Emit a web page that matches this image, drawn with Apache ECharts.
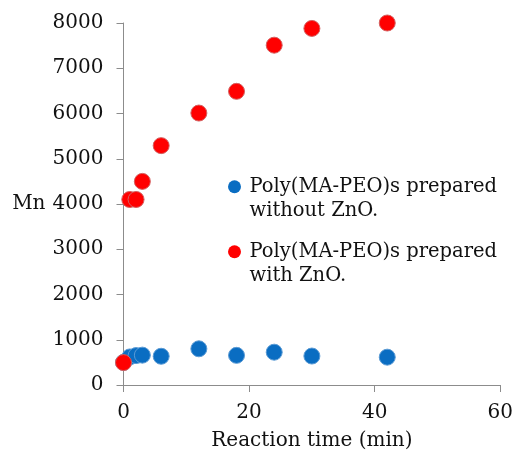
<!DOCTYPE html>
<html>
<head>
<meta charset="utf-8">
<script src="https://cdn.jsdelivr.net/npm/echarts@6/dist/echarts.min.js"></script>
<style>html,body{margin:0;padding:0;background:#fff;}#c{width:516px;height:456px;}</style>
</head>
<body>
<div id="c"></div>
<script>
var seriesNames = ['Poly(MA-PEO)s prepared\nwithout ZnO.', 'Poly(MA-PEO)s prepared\nwith ZnO.'];
var timeWithout = [0, 1, 2, 3, 6, 12, 18, 24, 30, 42];
var mnWithout = [500, 620, 650, 660, 635, 800, 655, 725, 640, 615];
var timeWith = [0, 1, 2, 3, 6, 12, 18, 24, 30, 42];
var mnWith = [495, 4100, 4100, 4500, 5290, 6010, 6490, 7510, 7880, 8000];
var xTicks = [0, 20, 40, 60];
var yTicks = [0, 1000, 2000, 3000, 4000, 5000, 6000, 7000, 8000];

function pairs(xs, ys) { return xs.map(function (x, i) { return [x, ys[i]]; }); }

var font = 'DejaVu Serif';
var fs = 20;
var axisColor = '#8c8c8c';
var chart = echarts.init(document.getElementById('c'));
chart.setOption({
  animation: false,
  backgroundColor: '#fff',
  grid: { left: 123.5, right: 14, top: 23, bottom: 71, containLabel: false },
  xAxis: {
    type: 'value', min: xTicks[0], max: xTicks[xTicks.length - 1], interval: 20,
    name: 'Reaction time (min)', nameLocation: 'middle', nameGap: 46,
    nameTextStyle: { fontFamily: font, fontSize: fs, color: '#111' },
    axisLine: { show: true, lineStyle: { color: axisColor, width: 1 } },
    axisTick: { show: true, inside: false, length: 7, lineStyle: { color: axisColor } },
    axisLabel: { fontFamily: font, fontSize: fs, color: '#111', margin: 18, formatter: function (v) { return String(v); } },
    splitLine: { show: false }
  },
  yAxis: {
    type: 'value', min: yTicks[0], max: yTicks[yTicks.length - 1], interval: 1000,
    name: 'Mn', nameLocation: 'middle', nameGap: 78, nameRotate: 0,
    nameTextStyle: { fontFamily: font, fontSize: fs, color: '#111', align: 'right', verticalAlign: 'middle', padding: [0, 0, 6, 0] },
    axisLine: { show: true, lineStyle: { color: axisColor, width: 1 } },
    axisTick: { show: true, inside: false, length: 7, lineStyle: { color: axisColor } },
    axisLabel: { fontFamily: font, fontSize: fs, color: '#111', margin: 20, formatter: function (v) { return String(v); } },
    splitLine: { show: false }
  },
  legend: {
    orient: 'vertical', left: 228, top: 150, padding: 0,
    itemWidth: 20, itemHeight: 13, itemGap: -8.5,
    icon: 'circle',
    data: seriesNames,
    formatter: function (name) { return '\n' + name; },
    textStyle: { fontFamily: font, fontSize: 19.5, color: '#111', lineHeight: 24.5 },
    itemStyle: { borderWidth: 0 }
  },
  series: [
    {
      name: seriesNames[0], type: 'scatter', symbolSize: 16, z: 2, clip: false,
      data: pairs(timeWithout, mnWithout),
      itemStyle: { color: '#0a6dc2', borderColor: '#5b9bd5', borderWidth: 1, opacity: 1 }
    },
    {
      name: seriesNames[1], type: 'scatter', symbolSize: 16, z: 3, clip: false,
      data: pairs(timeWith, mnWith),
      itemStyle: { color: '#ff0000', borderColor: '#d46060', borderWidth: 1, opacity: 1 }
    }
  ]
});
</script>
</body>
</html>
